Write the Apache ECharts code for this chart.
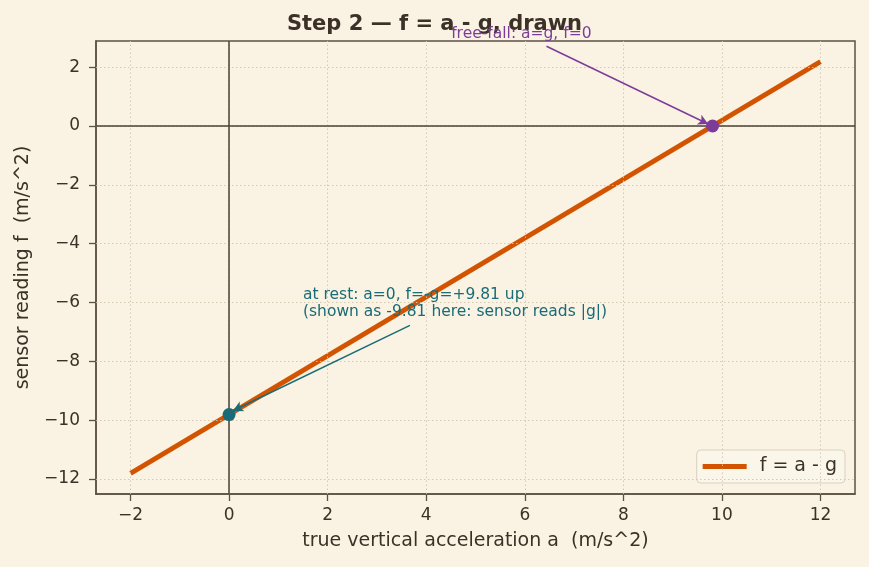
<!DOCTYPE html>
<html><head><meta charset="utf-8">
<script src="https://cdn.jsdelivr.net/npm/echarts@6/dist/echarts.min.js"></script>
<style>html,body{margin:0;padding:0;background:#FAF3E4;}#c{width:869px;height:567px;}</style>
</head><body><div id="c"></div>
<script>
// data
const aVals = [-2, 12];
const fVals = [-11.81, 2.19];
const restPoint = [0, -9.81];
const freePoint = [9.81, 0];
const xTicks = [-2, 0, 2, 4, 6, 8, 10, 12];
const yTicks = [-12, -10, -8, -6, -4, -2, 0, 2];
const restText = 'at rest: a=0, f=-g=+9.81 up\n(shown as -9.81 here: sensor reads |g|)';
const freeText = 'free-fall: a=g, f=0';
const restTextPos = [1.5, -6.62];
const freeTextPos = [5.93, 3.12];
const restArrow = [[3.67, -6.78], [0.08, -9.68]];
const freeArrow = [[6.44, 2.71], [9.72, 0.07]];

const FONT = 'DejaVu Sans';
const TXT = '#3b3127';
const AX = '#5b5043';
const fmt = v => (v < 0 ? '\u2212' + Math.abs(v) : String(v));

const chart = echarts.init(document.getElementById('c'), null, {renderer: 'canvas'});
const gridLines = [];
xTicks.forEach(v => gridLines.push({xAxis: v}));
yTicks.forEach(v => gridLines.push({yAxis: v}));

chart.setOption({
  backgroundColor: '#FAF3E4',
  animation: false,
  textStyle: {fontFamily: FONT, color: TXT},
  title: {
    text: 'Step 2 \u2014 f = a - g, drawn', left: 'center', top: 9,
    textStyle: {fontFamily: FONT, fontSize: 21, fontWeight: 'bold', color: TXT}
  },
  grid: {left: 96, right: 14, top: 41, bottom: 73, show: true, borderColor: AX, borderWidth: 1.5, backgroundColor: 'transparent'},
  legend: {
    data: ['f = a - g'], right: 24, bottom: 84, orient: 'vertical',
    icon: 'rect', itemWidth: 44, itemHeight: 5, itemGap: 8,
    padding: [7, 8, 7, 6],
    backgroundColor: '#FBF6EA', borderColor: '#d9d1c0', borderWidth: 1, borderRadius: 4,
    textStyle: {fontFamily: FONT, fontSize: 19, color: TXT, padding: [0, 0, 0, 8]}
  },
  xAxis: {
    type: 'value', min: -2.7, max: 12.7,
    name: 'true vertical acceleration a  (m/s^2)', nameLocation: 'middle', nameGap: 38,
    nameTextStyle: {fontFamily: FONT, fontSize: 19, color: TXT},
    axisLine: {show: true, onZero: false, lineStyle: {color: AX, width: 1.5}},
    axisTick: {show: true, customValues: xTicks, length: 7, lineStyle: {color: AX, width: 1.3}},
    axisLabel: {customValues: xTicks, formatter: fmt, fontFamily: FONT, fontSize: 17, color: TXT, margin: 13},
    splitLine: {show: false}
  },
  yAxis: {
    type: 'value', min: -12.51, max: 2.89,
    name: 'sensor reading f  (m/s^2)', nameLocation: 'middle', nameGap: 63, nameRotate: 90,
    nameTextStyle: {fontFamily: FONT, fontSize: 19, color: TXT},
    axisLine: {show: true, onZero: false, lineStyle: {color: AX, width: 1.5}},
    axisTick: {show: true, customValues: yTicks, length: 7, lineStyle: {color: AX, width: 1.3}},
    axisLabel: {customValues: yTicks, formatter: fmt, fontFamily: FONT, fontSize: 17, color: TXT, margin: 16},
    splitLine: {show: false}
  },
  series: [
    {
      name: 'grid', type: 'line', data: [], silent: true, z: 1,
      markLine: {
        silent: true, symbol: ['none', 'none'], label: {show: false},
        lineStyle: {color: '#cfc5ae', type: [1.5, 2.5], width: 0.9},
        data: gridLines, animation: false
      }
    },
    {
      name: 'zero', type: 'line', data: [], silent: true, z: 2,
      markLine: {
        silent: true, symbol: ['none', 'none'], label: {show: false},
        lineStyle: {color: '#4a4036', type: 'solid', width: 1.5},
        data: [{xAxis: 0}, {yAxis: 0}], animation: false
      }
    },
    {
      name: 'f = a - g', type: 'line', z: 3,
      data: aVals.map((a, i) => [a, fVals[i]]),
      showSymbol: false, symbol: 'none',
      lineStyle: {color: '#D35400', width: 4.8},
      itemStyle: {color: '#D35400'}
    },
    {
      name: 'rest', type: 'scatter', z: 5, data: [restPoint], symbolSize: 13,
      itemStyle: {color: '#1A6B75', opacity: 1},
      markLine: {
        silent: true, symbol: ['none', 'arrow'], symbolSize: [8, 10], label: {show: false},
        lineStyle: {color: '#1A6B75', type: 'solid', width: 1.5, opacity: 1},
        data: [[{coord: restArrow[0]}, {coord: restArrow[1]}]]
      }
    },
    {
      name: 'free', type: 'scatter', z: 5, data: [freePoint], symbolSize: 13,
      itemStyle: {color: '#7D3C98', opacity: 1},
      markLine: {
        silent: true, symbol: ['none', 'arrow'], symbolSize: [8, 10], label: {show: false},
        lineStyle: {color: '#7D3C98', type: 'solid', width: 1.5, opacity: 1},
        data: [[{coord: freeArrow[0]}, {coord: freeArrow[1]}]]
      }
    },
    {
      name: 'labels', type: 'scatter', z: 6, clip: false, symbolSize: 0, silent: true,
      data: [
        {value: restTextPos, label: {show: true, formatter: restText, position: [0, 0], align: 'left', verticalAlign: 'bottom',
          fontFamily: FONT, fontSize: 15.5, lineHeight: 17.5, color: '#1A6B75', opacity: 1}},
        {value: freeTextPos, label: {show: true, formatter: freeText, position: [0, 0], align: 'center', verticalAlign: 'middle',
          fontFamily: FONT, fontSize: 15.5, color: '#7D3C98', opacity: 1}}
      ]
    }
  ]
});
</script></body></html>
